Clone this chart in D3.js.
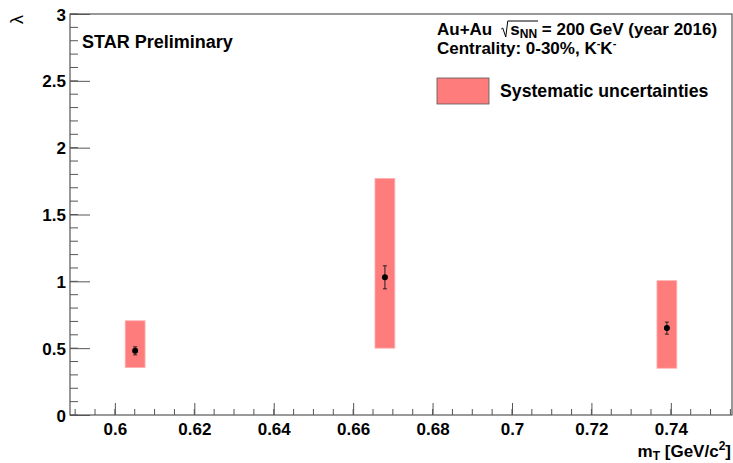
<!DOCTYPE html>
<html>
<head>
<meta charset="utf-8">
<script src="https://cdn.jsdelivr.net/npm/d3@7"></script>
<style>
  body { margin: 0; background: #fff; }
  text { font-family: "Liberation Sans", Arial, sans-serif; font-weight: bold; fill: #000; }
</style>
</head>
<body>
<div class="chart"></div>
<script>
var svgWidth = 733;
var svgHeight = 463;

var margin = { top: 14, right: 1, bottom: 48, left: 70 };
var width = svgWidth - margin.left - margin.right;
var height = svgHeight - margin.top - margin.bottom;

// Data
var mT = [0.6051, 0.668, 0.739];
var lambda = [0.48, 1.03, 0.65];
var statErr = [0.03, 0.086, 0.045];
var sysLow = [0.355, 0.50, 0.35];
var sysHigh = [0.705, 1.77, 1.005];
var sysHalfWidth = 0.0025;

var xTicks = [0.6, 0.62, 0.64, 0.66, 0.68, 0.7, 0.72, 0.74];
var yTicks = [0, 0.5, 1, 1.5, 2, 2.5, 3];

var points = mT.map(function (m, i) {
  return { x: m, y: lambda[i], err: statErr[i], lo: sysLow[i], hi: sysHigh[i] };
});

var svg = d3.select(".chart")
  .append("svg")
  .attr("width", svgWidth)
  .attr("height", svgHeight);

var chartGroup = svg.append("g")
  .attr("transform", `translate(${margin.left}, ${margin.top})`);

var xScale = d3.scaleLinear()
  .domain([0.5887, 0.7554])
  .range([0, width]);

var yScale = d3.scaleLinear()
  .domain([0, 3])
  .range([height, 0]);

var axisColor = "#555";

// minor ticks
var xMinor = d3.range(0.59, 0.7551, 0.005);
var yMinor = d3.range(0, 3.001, 0.1);

chartGroup.selectAll(".xminor")
  .data(xMinor)
  .enter()
  .append("line")
  .attr("x1", d => xScale(d))
  .attr("x2", d => xScale(d))
  .attr("y1", height)
  .attr("y2", height - 6)
  .attr("stroke", axisColor);

chartGroup.selectAll(".yminor")
  .data(yMinor)
  .enter()
  .append("line")
  .attr("x1", 0)
  .attr("x2", 8)
  .attr("y1", d => yScale(d))
  .attr("y2", d => yScale(d))
  .attr("stroke", axisColor);

// axes
var bottomAxis = d3.axisBottom(xScale)
  .tickValues(xTicks)
  .tickSizeInner(-12)
  .tickSizeOuter(0)
  .tickFormat(d3.format("~g"));

var leftAxis = d3.axisLeft(yScale)
  .tickValues(yTicks)
  .tickSizeInner(-20)
  .tickSizeOuter(0)
  .tickFormat(d3.format("~g"));

var xAxisG = chartGroup.append("g")
  .attr("transform", `translate(0, ${height})`)
  .call(bottomAxis);

var yAxisG = chartGroup.append("g")
  .call(leftAxis);

[xAxisG, yAxisG].forEach(function (g) {
  g.select(".domain").remove();
  g.selectAll("line").attr("stroke", axisColor);
  g.selectAll("text")
    .attr("fill", "#000")
    .style("font-size", "17px")
    .style("font-family", "'Liberation Sans', Arial, sans-serif")
    .style("font-weight", "bold");
});
yAxisG.selectAll("text").attr("dy", "0.36em").attr("x", -4);
xAxisG.selectAll("text").attr("dy", "0").attr("y", 20);

// frame
chartGroup.append("rect")
  .attr("x", 0)
  .attr("y", 0)
  .attr("width", width)
  .attr("height", height)
  .attr("fill", "none")
  .attr("stroke", axisColor)
  .attr("stroke-width", 1.2);

// systematic boxes
chartGroup.selectAll(".sys")
  .data(points)
  .enter()
  .append("rect")
  .attr("x", d => xScale(d.x - sysHalfWidth))
  .attr("width", d => xScale(d.x + sysHalfWidth) - xScale(d.x - sysHalfWidth))
  .attr("y", d => yScale(d.hi))
  .attr("height", d => yScale(d.lo) - yScale(d.hi))
  .attr("fill", "#ff7c7c")
  .attr("stroke", "#ffb0b0")
  .attr("stroke-width", 0.8);

// stat error bars
chartGroup.selectAll(".err")
  .data(points)
  .enter()
  .append("line")
  .attr("x1", d => xScale(d.x))
  .attr("x2", d => xScale(d.x))
  .attr("y1", d => yScale(d.y - d.err))
  .attr("y2", d => yScale(d.y + d.err))
  .attr("stroke", "#222")
  .attr("stroke-width", 1);

["lo", "hi"].forEach(function (side) {
  chartGroup.selectAll(".cap" + side)
    .data(points)
    .enter()
    .append("line")
    .attr("x1", d => xScale(d.x) - 2)
    .attr("x2", d => xScale(d.x) + 2)
    .attr("y1", d => yScale(side === "lo" ? d.y - d.err : d.y + d.err))
    .attr("y2", d => yScale(side === "lo" ? d.y - d.err : d.y + d.err))
    .attr("stroke", "#222")
    .attr("stroke-width", 1);
});

chartGroup.selectAll("circle")
  .data(points)
  .enter()
  .append("circle")
  .attr("cx", d => xScale(d.x))
  .attr("cy", d => yScale(d.y))
  .attr("r", 3)
  .attr("fill", "#000");

// labels
svg.append("text")
  .attr("x", 82)
  .attr("y", 48)
  .style("font-size", "18px")
  .text("STAR Preliminary");

var info = svg.append("text")
  .attr("x", 437)
  .attr("y", 35)
  .style("font-size", "17px");
info.append("tspan").text("Au+Au");
var sTsp = info.append("tspan").attr("dx", 18).text("s");
var nnTsp = info.append("tspan").attr("dy", 3).style("font-size", "12px").text("NN");
info.append("tspan").attr("dy", -3).text(" = 200 GeV (year 2016)");

// radical sign drawn over s_NN
var sStart = sTsp.node().getStartPositionOfChar(0).x;
var nnEnd = nnTsp.node().getEndPositionOfChar(1).x;
svg.append("path")
  .attr("d", `M${sStart - 9},${29} L${sStart - 7.5},${28} L${sStart - 4.5},${37} L${sStart - 2.5},${21} L${nnEnd + 1},${21}`)
  .attr("fill", "none")
  .attr("stroke", "#000")
  .attr("stroke-width", 1);

var cent = svg.append("text")
  .attr("x", 437)
  .attr("y", 54)
  .style("font-size", "17px");
cent.append("tspan").text("Centrality: 0-30%, K");
cent.append("tspan").attr("dy", -7).style("font-size", "11px").text("-");
cent.append("tspan").attr("dy", 7).text("K");
cent.append("tspan").attr("dy", -7).style("font-size", "11px").text("-");

svg.append("rect")
  .attr("x", 437)
  .attr("y", 78)
  .attr("width", 52)
  .attr("height", 26)
  .attr("fill", "#ff7c7c")
  .attr("stroke", "#555")
  .attr("stroke-width", 0.8);

svg.append("text")
  .attr("x", 500)
  .attr("y", 97)
  .style("font-size", "17.7px")
  .text("Systematic uncertainties");

// axis titles
var xt = svg.append("text")
  .attr("x", 731)
  .attr("y", 457)
  .attr("text-anchor", "end")
  .style("font-size", "17px");
xt.append("tspan").text("m");
xt.append("tspan").attr("dy", 3).style("font-size", "12px").text("T");
xt.append("tspan").attr("dy", -3).text(" [GeV/c");
xt.append("tspan").attr("dy", -7).style("font-size", "12px").text("2");
xt.append("tspan").attr("dy", 7).text("]");

svg.append("text")
  .attr("transform", "translate(23, 15) rotate(-90)")
  .attr("text-anchor", "end")
  .style("font-size", "18px")
  .style("font-weight", "normal")
  .text("λ");
</script>
</body>
</html>
